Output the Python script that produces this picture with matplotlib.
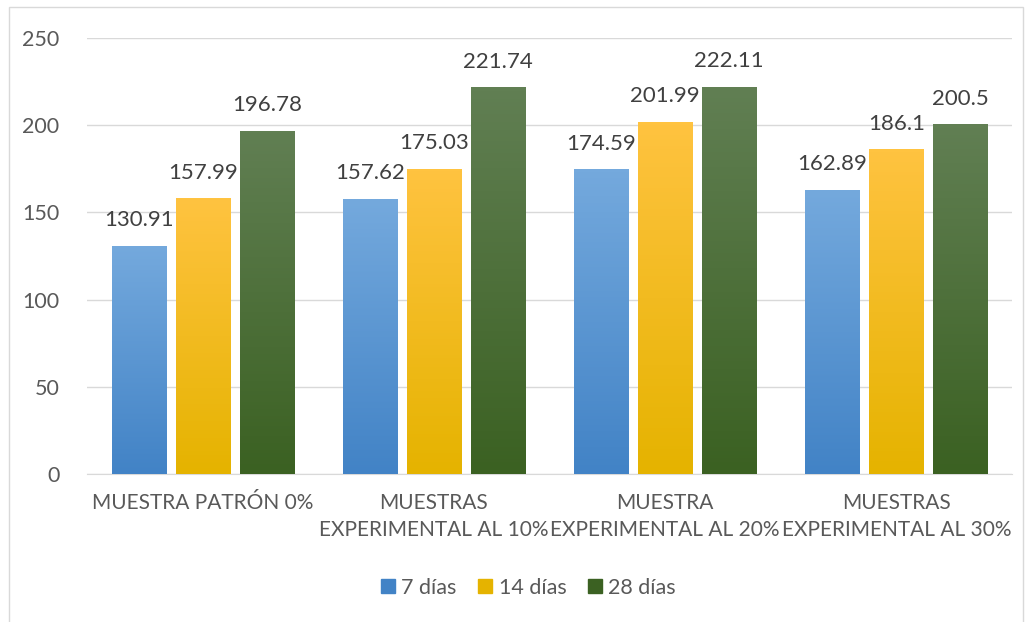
import numpy as np
import matplotlib
matplotlib.use('Agg')
import matplotlib.pyplot as plt
from matplotlib.colors import LinearSegmentedColormap
from matplotlib.patches import Rectangle

plt.rcParams['font.family'] = ['Lato', 'DejaVu Sans']

categories = ['MUESTRA PATRÓN 0%', 'MUESTRAS\nEXPERIMENTAL AL 10%',
              'MUESTRA\nEXPERIMENTAL AL 20%', 'MUESTRAS\nEXPERIMENTAL AL 30%']
series_names = ['7 días', '14 días', '28 días']
dias_7 = [130.91, 157.62, 174.59, 162.89]
dias_14 = [157.99, 175.03, 201.99, 186.1]
dias_28 = [196.78, 221.74, 222.11, 200.5]
labels_7 = ['130.91', '157.62', '174.59', '162.89']
labels_14 = ['157.99', '175.03', '201.99', '186.1']
labels_28 = ['196.78', '221.74', '222.11', '200.5']

# gradient (top, bottom) per series
grads = [('#74a9dd', '#4283c6'), ('#ffc340', '#e5b300'), ('#617f53', '#3b6122')]

fig = plt.figure(figsize=(10.3, 6.22), dpi=100)
ax = fig.add_axes([0.0845, 0.238, 0.898, 0.701])

x = np.arange(len(categories))
w = 0.234
step = 0.277
all_vals = [dias_7, dias_14, dias_28]
all_labels = [labels_7, labels_14, labels_28]

for k, (vals, labs, name) in enumerate(zip(all_vals, all_labels, series_names)):
    top, bot = grads[k]
    bars = ax.bar(x + (k - 1) * step, vals, w, color=bot, label=name, zorder=2)
    cmap = LinearSegmentedColormap.from_list('g%d' % k, [bot, top])
    for b, lab in zip(bars, labs):
        x0, y0 = b.get_x(), b.get_y()
        bw, bh = b.get_width(), b.get_height()
        grad = np.linspace(0, 1, 100).reshape(-1, 1)
        im = ax.imshow(grad, cmap=cmap, origin='lower', aspect='auto',
                       extent=[x0, x0 + bw, y0, y0 + bh], zorder=3)
        im.set_clip_path(b)
        ax.text(x0 + bw / 2, bh + 9, lab, ha='center', va='bottom',
                fontsize=16, color='#404040', zorder=4)

ax.set_xlim(-0.5, 3.5)
ax.set_ylim(0, 250)
ax.set_yticks([0, 50, 100, 150, 200, 250])
ax.set_xticks(x)
ax.set_xticklabels(categories, fontsize=15, color='#595959', linespacing=1.4)
ax.tick_params(axis='y', length=0, labelsize=15.5, labelcolor='#595959', pad=20)
ax.tick_params(axis='x', length=0, pad=14)
ax.grid(axis='y', color='#d9d9d9', linewidth=1, zorder=0)
for s in ['top', 'right', 'left']:
    ax.spines[s].set_visible(False)
ax.spines['bottom'].set_color('#d9d9d9')
ax.set_axisbelow(True)

handles = [Rectangle((0, 0), 1, 1, color=grads[k][1]) for k in range(3)]
fig.legend(handles, series_names, loc='center', bbox_to_anchor=(0.513, 0.055),
           ncol=3, frameon=False, fontsize=15.5, handlelength=0.65, handleheight=0.65,
           handletextpad=0.3, columnspacing=1.0, labelcolor='#595959')

fig.patches.append(Rectangle((0.009, -0.01), 0.984, 0.999, transform=fig.transFigure,
                             fill=False, edgecolor='#d9d9d9', linewidth=1))

fig.savefig('out.png', dpi=100)
